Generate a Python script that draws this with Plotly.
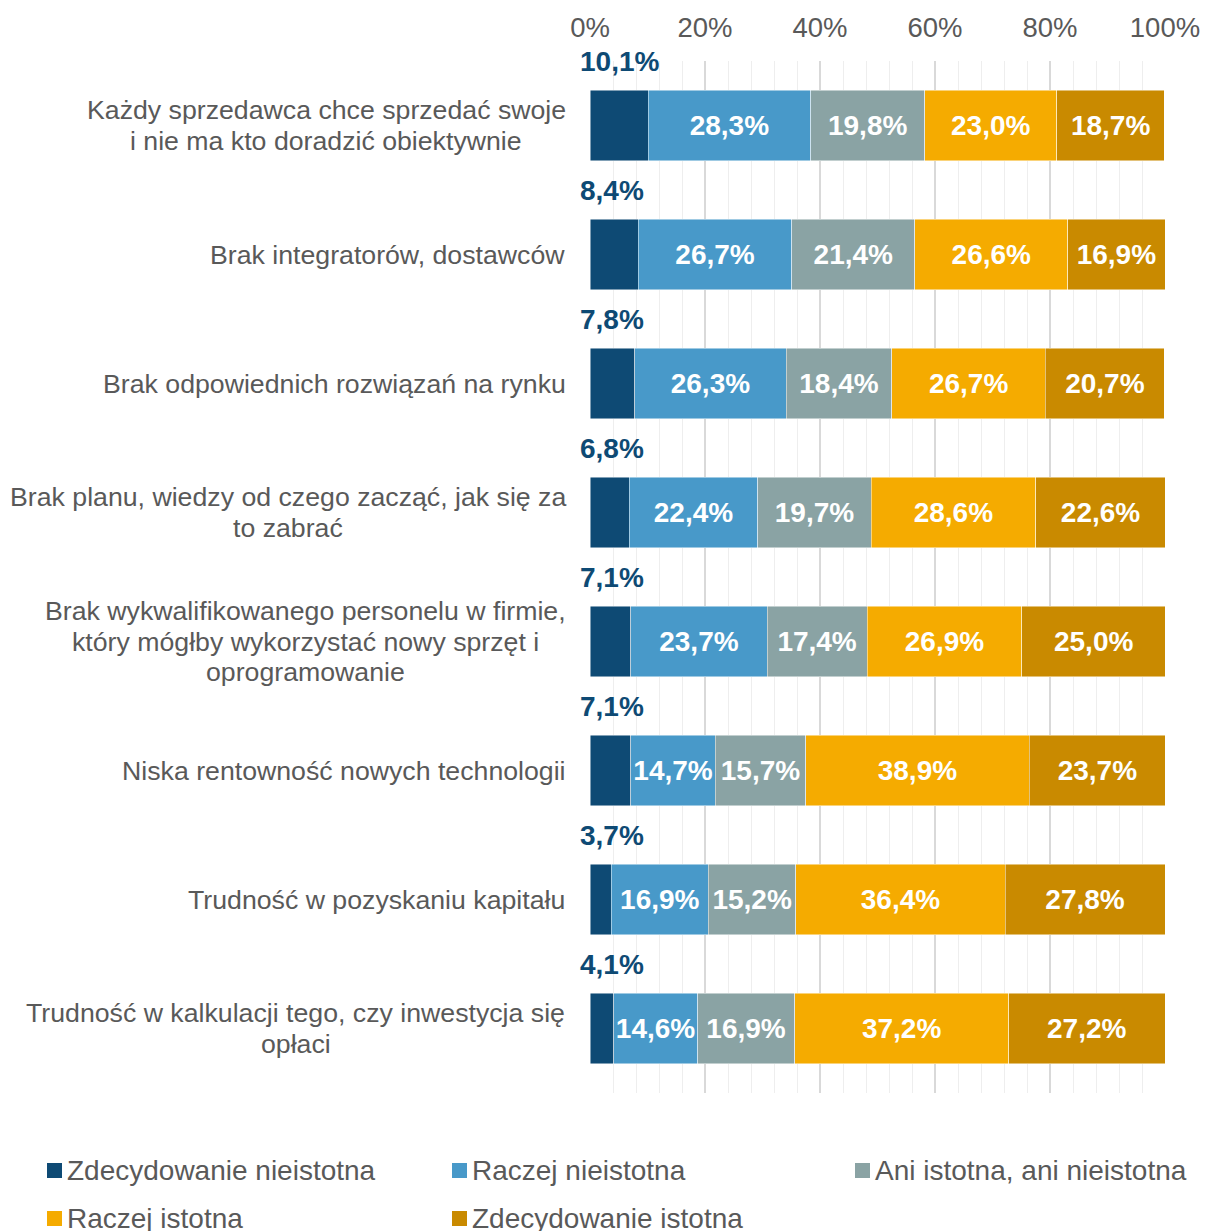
import plotly.graph_objects as go

# Survey answers: importance of barriers to adopting new technologies
categories = [
    "Każdy sprzedawca chce sprzedać swoje<br>i nie ma kto doradzić obiektywnie",
    "Brak integratorów, dostawców",
    "Brak odpowiednich rozwiązań na rynku",
    "Brak planu, wiedzy od czego zacząć, jak się za<br>to zabrać",
    "Brak wykwalifikowanego personelu w firmie,<br>który mógłby wykorzystać nowy sprzęt i<br>oprogramowanie",
    "Niska rentowność nowych technologii",
    "Trudność w pozyskaniu kapitału",
    "Trudność w kalkulacji tego, czy inwestycja się<br>opłaci",
]

series_names = [
    "Zdecydowanie nieistotna",
    "Raczej nieistotna",
    "Ani istotna, ani nieistotna",
    "Raczej istotna",
    "Zdecydowanie istotna",
]

zdecydowanie_nieistotna = [10.1, 8.4, 7.8, 6.8, 7.1, 7.1, 3.7, 4.1]
raczej_nieistotna = [28.3, 26.7, 26.3, 22.4, 23.7, 14.7, 16.9, 14.6]
ani_istotna = [19.8, 21.4, 18.4, 19.7, 17.4, 15.7, 15.2, 16.9]
raczej_istotna = [23.0, 26.6, 26.7, 28.6, 26.9, 38.9, 36.4, 37.2]
zdecydowanie_istotna = [18.7, 16.9, 20.7, 22.6, 25.0, 23.7, 27.8, 27.2]

series_values = [
    zdecydowanie_nieistotna,
    raczej_nieistotna,
    ani_istotna,
    raczej_istotna,
    zdecydowanie_istotna,
]

tick_values = [0, 20, 40, 60, 80, 100]
tick_labels = ["0%", "20%", "40%", "60%", "80%", "100%"]

colors = ["#0E4A74", "#4899C9", "#8AA3A4", "#F5AB00", "#C98A00"]
FONT = "Liberation Sans, Arial, sans-serif"
TEXT_GRAY = "#595959"
LABEL_SIZE = 26.7
LINE_STEP = 30.5  # px between lines of a wrapped category label
LABEL_RIGHT = 566  # px, right edge of the category label blocks

# Advance widths (per 1000 em) of Liberation Sans / Arial, used to centre
# the lines of a wrapped label inside its right-aligned block.
_W = {
    "a": 556, "b": 556, "c": 500, "d": 556, "e": 556, "f": 278, "g": 556,
    "h": 556, "i": 222, "j": 222, "k": 500, "l": 222, "m": 833, "n": 556,
    "o": 556, "p": 556, "q": 556, "r": 333, "s": 500, "t": 278, "u": 556,
    "v": 500, "w": 722, "x": 500, "y": 500, "z": 500,
    "ą": 556, "ć": 500, "ę": 556, "ł": 222, "ń": 556, "ó": 556, "ś": 500,
    "ź": 500, "ż": 500, "B": 667, "K": 667, "N": 722, "T": 611,
    ",": 278, " ": 278,
}


def text_width(s, size):
    return sum(_W.get(ch, 556) for ch in s) * size / 1000


def pct(v):
    return f"{v:.1f}%".replace(".", ",")


fig = go.Figure()
for i, (name, vals, col) in enumerate(zip(series_names, series_values, colors)):
    # first series is labelled above the bar instead of inside it
    labels = ["" if i == 0 else pct(v) for v in vals]
    fig.add_trace(go.Bar(
        y=categories,
        x=vals,
        name=name,
        orientation="h",
        marker=dict(color=col, line=dict(color="rgba(255,255,255,0.6)", width=0.8)),
        text=labels,
        textposition="inside",
        insidetextanchor="middle",
        textangle=0,
        textfont=dict(family=FONT, size=28, color="white", weight="bold"),
        showlegend=False,
        hoverinfo="skip",
    ))

PLOT_L, PLOT_W = 590, 575
PLOT_B, PLOT_H = 1093, 1032

annotations = []
# category labels: lines centred within a block that is right-aligned
for cat in categories:
    lines = cat.split("<br>")
    n = len(lines)
    block_w = max(text_width(line, LABEL_SIZE) for line in lines)
    center_px = LABEL_RIGHT - block_w / 2
    for k, line in enumerate(lines):
        annotations.append(dict(
            x=(center_px - PLOT_L) / PLOT_W, xref="paper", y=cat, yref="y",
            yshift=((n - 1) / 2 - k) * LINE_STEP,
            text=line, showarrow=False, xanchor="center", yanchor="middle",
            font=dict(family=FONT, size=LABEL_SIZE, color=TEXT_GRAY),
        ))

# values of the first series shown above each bar
for cat, v in zip(categories, zdecydowanie_nieistotna):
    annotations.append(dict(
        x=0, xref="x", y=cat, yref="y", yshift=64, xshift=-12,
        text=pct(v), showarrow=False, xanchor="left", yanchor="middle",
        font=dict(family=FONT, size=28, color=colors[0], weight="bold"),
    ))

# legend drawn as swatches + labels in two rows of three columns
shapes = []
legend_cols = [47, 452, 855]
legend_rows = [1170, 1218]
for i, (name, col) in enumerate(zip(series_names, colors)):
    px = legend_cols[i % 3]
    py = legend_rows[i // 3]
    x0 = (px - PLOT_L) / PLOT_W
    x1 = (px + 15 - PLOT_L) / PLOT_W
    y0 = (PLOT_B - (py + 8)) / PLOT_H
    y1 = (PLOT_B - (py - 7)) / PLOT_H
    shapes.append(dict(type="rect", xref="paper", yref="paper",
                       x0=x0, x1=x1, y0=y0, y1=y1,
                       fillcolor=col, line=dict(width=0)))
    annotations.append(dict(
        x=(px + 18 - PLOT_L) / PLOT_W, xref="paper",
        y=(PLOT_B - py) / PLOT_H, yref="paper",
        text=name, showarrow=False, xanchor="left", yanchor="middle",
        font=dict(family=FONT, size=28, color=TEXT_GRAY),
    ))

fig.update_layout(
    barmode="stack",
    bargap=0.45,
    width=1206,
    height=1231,
    margin=dict(l=590, r=41, t=61, b=138, autoexpand=False),
    paper_bgcolor="white",
    plot_bgcolor="white",
    font=dict(family=FONT, size=24, color=TEXT_GRAY),
    uniformtext=dict(minsize=28, mode="show"),
    annotations=annotations,
    shapes=shapes,
    xaxis=dict(
        side="top",
        range=[0, 100],
        tickvals=tick_values,
        ticktext=tick_labels,
        tickfont=dict(family=FONT, size=27.5, color=TEXT_GRAY),
        ticklabelstandoff=18,
        showgrid=True,
        gridcolor="#D9D9D9",
        gridwidth=1.5,
        zeroline=False,
        showline=False,
        minor=dict(dtick=4, showgrid=True, gridcolor="#EEEEEE", gridwidth=1),
        fixedrange=True,
        automargin=False,
    ),
    yaxis=dict(
        range=[len(categories) - 0.5, -0.5],
        showticklabels=False,
        showgrid=False,
        zeroline=False,
        fixedrange=True,
        automargin=False,
    ),
)

fig.write_html("out.html")
